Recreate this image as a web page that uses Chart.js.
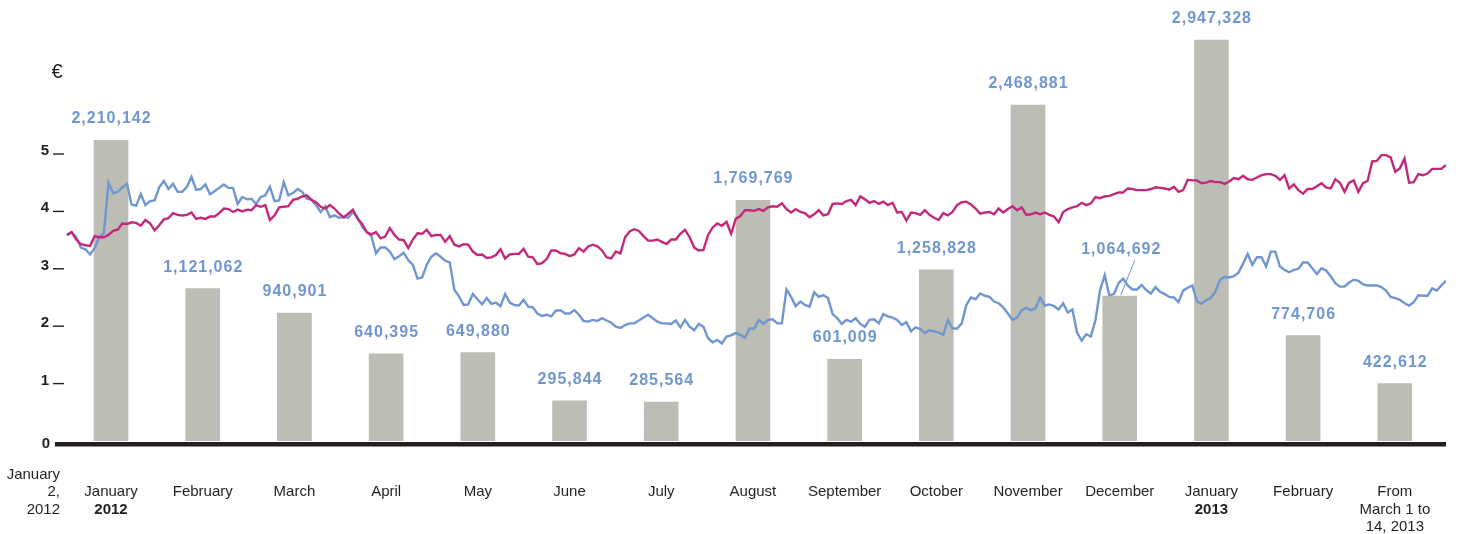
<!DOCTYPE html>
<html lang="en">
<head>
    <meta charset="UTF-8">
    <title>Share price and monthly volumes, January 2012 - March 2013</title>
    <script src="https://cdn.jsdelivr.net/npm/chart.js"></script>
    <style>
        html, body { margin: 0; padding: 0; background: #fff; }
        canvas { display: block; }
    </style>
</head>
<body>
    <canvas id="chart" width="1458" height="534"></canvas>

    <script>
        // monthly traded volumes (bars)
        const monthLabels = [
            ["January", "2012"], ["February"], ["March"], ["April"], ["May"], ["June"], ["July"],
            ["August"], ["September"], ["October"], ["November"], ["December"],
            ["January", "2013"], ["February"], ["From", "March 1 to", "14, 2013"]
        ];
        const startLabel = ["January", "2,", "2012"];
        const volumes = [2210142, 1121062, 940901, 640395, 649880, 295844, 285564, 1769769,
                         601009, 1258828, 2468881, 1064692, 2947328, 774706, 422612];

        const yTicks = [0, 1, 2, 3, 4, 5];

        // daily prices in euro, 2 Jan 2012 - 14 Mar 2013
        const bluePrice = [
            3.59,3.64,3.55,3.37,3.34,3.25,3.36,3.55,3.62,4.50,
            4.32,4.34,4.42,4.48,4.12,4.10,4.30,4.11,4.18,4.19,
            4.42,4.53,4.39,4.48,4.34,4.34,4.43,4.60,4.38,4.39,
            4.47,4.30,4.35,4.41,4.47,4.41,4.41,4.13,4.25,4.21,
            4.22,4.13,4.25,4.28,4.43,4.18,4.19,4.51,4.28,4.32,
            4.39,4.34,4.22,4.20,4.11,3.99,4.09,3.90,3.93,3.89,
            3.90,3.89,3.99,3.90,3.73,3.64,3.57,3.27,3.37,3.37,
            3.30,3.17,3.22,3.28,
            3.15,3.07,2.83,2.85,3.07,3.21,3.27,3.21,3.14,3.11,
            2.63,2.52,2.37,2.38,2.56,2.47,2.38,2.49,2.39,2.41,
            2.35,2.56,2.41,2.37,2.36,2.46,2.34,2.33,2.22,2.18,
            2.20,2.17,2.27,2.28,2.22,2.22,2.28,2.20,2.09,2.08,
            2.11,2.09,2.14,2.10,2.06,1.99,1.97,2.02,2.05,2.05,
            2.10,2.15,2.20,2.14,2.08,2.05,2.05,2.04,2.10,1.98,
            2.11,1.99,1.93,2.04,1.99,1.79,1.72,1.76,1.70,1.82,
            1.84,1.88,1.85,1.80,1.96,
            1.96,2.11,2.04,2.11,2.12,2.05,2.05,2.64,2.51,2.35,
            2.43,2.37,2.34,2.59,2.51,2.54,2.49,2.21,2.14,2.04,
            2.11,2.08,2.14,2.04,1.99,2.11,2.12,2.05,2.21,2.17,
            2.15,2.11,2.02,2.07,1.91,1.98,1.95,1.88,1.93,1.91,
            1.89,1.85,2.11,1.96,1.96,2.05,2.37,2.50,2.47,2.57,
            2.53,2.51,2.43,2.40,2.33,2.22,2.11,2.15,2.28,2.32,
            2.28,2.31,2.50,2.36,2.38,2.35,2.29,2.40,2.24,2.29,
            1.89,1.75,1.86,1.82,2.11,2.63,
            2.89,2.54,2.56,2.75,2.83,2.71,2.64,2.64,2.72,2.63,
            2.57,2.68,2.60,2.56,2.51,2.50,2.42,2.62,2.67,2.71,
            2.43,2.39,2.45,2.49,2.60,2.81,2.86,2.85,2.87,2.93,
            3.09,3.26,3.07,3.20,3.20,3.04,3.30,3.30,3.04,2.98,
            2.94,2.98,3.00,3.11,3.11,3.01,2.91,3.01,2.97,2.87,
            2.75,2.69,2.69,2.76,2.81,2.79,2.73,2.71,2.71,2.71,
            2.68,2.62,2.51,2.49,2.46,2.40,2.36,2.42,2.54,2.53,
            2.53,2.66,2.62,2.71,2.79
        ];
        const magentaPrice = [
            3.59,3.64,3.51,3.43,3.41,3.40,3.57,3.55,3.55,3.59,
            3.66,3.68,3.79,3.78,3.81,3.80,3.75,3.85,3.79,3.67,
            3.76,3.86,3.88,3.97,3.94,3.93,3.94,3.98,3.87,3.89,
            3.87,3.91,3.91,3.97,4.05,4.04,3.99,4.03,4.00,4.03,
            4.02,4.11,4.08,4.11,3.85,3.93,4.07,4.08,4.09,4.20,
            4.22,4.26,4.28,4.20,4.16,4.08,4.05,4.11,4.05,3.96,
            3.90,3.96,4.03,3.87,3.78,3.64,3.60,3.64,3.53,3.56,
            3.71,3.59,3.51,3.50,
            3.36,3.51,3.62,3.61,3.68,3.57,3.59,3.59,3.47,3.57,
            3.42,3.39,3.43,3.42,3.30,3.24,3.25,3.19,3.20,3.24,
            3.34,3.18,3.25,3.26,3.26,3.35,3.21,3.20,3.08,3.10,
            3.17,3.32,3.32,3.27,3.26,3.22,3.25,3.36,3.30,3.39,
            3.42,3.39,3.32,3.20,3.18,3.30,3.27,3.55,3.65,3.69,
            3.66,3.57,3.49,3.49,3.51,3.47,3.43,3.51,3.51,3.61,
            3.68,3.55,3.37,3.32,3.33,3.59,3.72,3.79,3.75,3.82,
            3.61,3.87,3.92,4.02,4.02,
            4.01,4.04,4.01,4.07,4.09,4.08,4.14,4.04,3.98,4.04,
            3.99,3.97,3.90,3.95,4.02,3.93,3.95,4.13,4.14,4.13,
            4.18,4.20,4.11,4.26,4.21,4.15,4.18,4.13,4.17,4.11,
            4.15,3.98,3.99,3.84,3.98,3.97,3.94,4.02,3.94,3.89,
            3.85,3.97,3.93,3.99,4.11,4.16,4.17,4.12,4.05,3.96,
            3.98,3.99,3.95,4.05,3.98,4.04,4.09,4.02,4.07,3.94,
            3.95,3.98,3.95,3.98,3.94,3.91,3.81,3.99,4.04,4.07,
            4.09,4.15,4.11,4.14,4.25,4.23,
            4.26,4.27,4.30,4.33,4.33,4.40,4.39,4.37,4.37,4.37,
            4.39,4.42,4.41,4.40,4.38,4.43,4.34,4.37,4.55,4.54,
            4.54,4.49,4.50,4.53,4.51,4.51,4.48,4.52,4.58,4.56,
            4.62,4.56,4.55,4.59,4.63,4.65,4.65,4.62,4.55,4.63,
            4.40,4.47,4.37,4.31,4.39,4.39,4.44,4.49,4.42,4.40,
            4.56,4.50,4.34,4.50,4.54,4.34,4.49,4.53,4.87,4.88,
            4.98,4.98,4.94,4.69,4.75,4.92,4.50,4.51,4.65,4.63,
            4.66,4.74,4.74,4.74,4.81
        ];

        const FONT = '"Liberation Sans", Arial, Helvetica, sans-serif';
        const BLUE = "#7096d0";
        const MAGENTA = "#c4287b";
        const GREY = "#bcbeb5";
        const INK = "#231f20";

        // same pixel scale for both y axes: 1 euro = 422,000 shares
        const Y_MAX = 7.5;
        const VOL_PER_EURO = 422000;

        // axis, ticks and all labels are drawn by hand
        const decorations = {
            id: "decorations",
            afterDatasetsDraw(chart) {
                const ctx = chart.ctx;
                const area = chart.chartArea;
                const ys = chart.scales.y;
                const xs = chart.scales.x;
                const zero = ys.getPixelForValue(0);
                ctx.save();

                // heavy base line
                ctx.fillStyle = INK;
                ctx.fillRect(area.left, zero + 1, area.right - area.left, 4.5);

                // y ticks "5 _"
                ctx.font = "bold 15px " + FONT;
                ctx.textAlign = "right";
                ctx.textBaseline = "alphabetic";
                yTicks.forEach(v => {
                    const py = ys.getPixelForValue(v);
                    if (v === 0) {
                        ctx.fillText("0", 50, py + 7);
                        return;
                    }
                    ctx.fillText(String(v), 49, py + 1);
                    ctx.fillRect(53, py - 0.7, 11, 1.4);
                });

                ctx.font = "20px " + FONT;
                ctx.textAlign = "center";
                ctx.fillText("€", 57, 78);

                // month labels under the axis
                ctx.fillStyle = INK;
                monthLabels.forEach((lines, i) => {
                    const px = xs.getPixelForValue(i);
                    lines.forEach((line, j) => {
                        ctx.font = (/^\d{4}$/.test(line) ? "bold " : "") + "15px " + FONT;
                        ctx.fillText(line, px, zero + 55 + j * 17.5);
                    });
                });
                ctx.font = "15px " + FONT;
                ctx.textAlign = "right";
                startLabel.forEach((line, j) => {
                    ctx.fillText(line, 60, zero + 37.5 + j * 17.5);
                });

                // volume numbers over the bars
                const bars = chart.getDatasetMeta(0).data;
                ctx.fillStyle = BLUE;
                ctx.strokeStyle = BLUE;
                ctx.font = "bold 16px " + FONT;
                ctx.textAlign = "center";
                ctx.letterSpacing = "1px";
                bars.forEach((bar, i) => {
                    const text = volumes[i].toLocaleString("en-US");
                    if (i === 11) {
                        // December label sits higher, with a leader line
                        ctx.fillText(text, bar.x + 1.5, bar.y - 42);
                        ctx.lineWidth = 1;
                        ctx.beginPath();
                        ctx.moveTo(bar.x + 15, bar.y - 36);
                        ctx.lineTo(bar.x + 1, bar.y - 1);
                        ctx.stroke();
                    } else {
                        ctx.fillText(text, bar.x + 0.5, bar.y - 17);
                    }
                });
                ctx.restore();
            }
        };

        new Chart(document.getElementById("chart"), {
            data: {
                datasets: [
                    {
                        type: "bar",
                        data: volumes.map((v, i) => ({ x: i, y: v })),
                        backgroundColor: GREY,
                        barThickness: 34,
                        grouped: false,
                        xAxisID: "x",
                        yAxisID: "yVol",
                        order: 3
                    },
                    {
                        type: "line",
                        data: bluePrice.map((v, i) => ({ x: i, y: v })),
                        borderColor: BLUE,
                        borderWidth: 2.4,
                        pointRadius: 0,
                        tension: 0,
                        xAxisID: "xDay",
                        yAxisID: "y",
                        order: 2
                    },
                    {
                        type: "line",
                        data: magentaPrice.map((v, i) => ({ x: i, y: v })),
                        borderColor: MAGENTA,
                        borderWidth: 2.4,
                        pointRadius: 0,
                        tension: 0,
                        xAxisID: "xDay",
                        yAxisID: "y",
                        order: 1
                    }
                ]
            },
            options: {
                responsive: false,
                animation: false,
                devicePixelRatio: 1,
                layout: { padding: { left: 55, right: 12, top: 10.5, bottom: 93 } },
                plugins: {
                    legend: { display: false },
                    tooltip: { enabled: false }
                },
                scales: {
                    x: { type: "linear", display: false, offset: false, min: -0.611, max: 14.558 },
                    xDay: { type: "linear", display: false, offset: false, min: -2.6, max: bluePrice.length - 1 },
                    y: { display: false, min: 0, max: Y_MAX },
                    yVol: { display: false, min: 0, max: Y_MAX * VOL_PER_EURO }
                }
            },
            plugins: [decorations]
        });
    </script>
</body>
</html>
